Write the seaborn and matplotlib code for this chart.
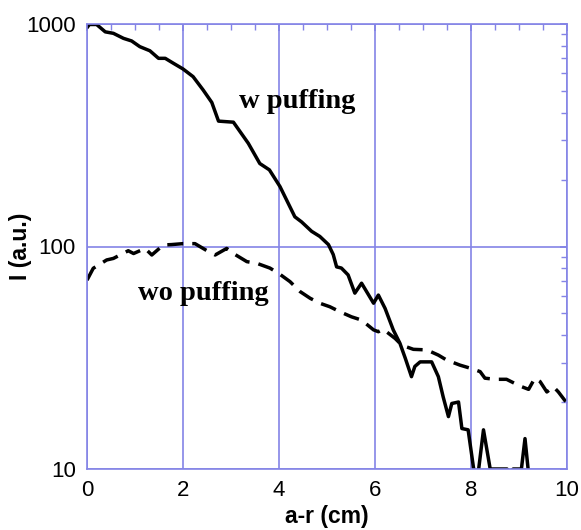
import numpy as np
import pandas as pd
import matplotlib
matplotlib.use("Agg")
import matplotlib.pyplot as plt
import matplotlib.ticker as mticker
import seaborn as sns

# datos
x_w = [0.0, 0.05, 0.2, 0.38, 0.55, 0.76, 0.93, 1.10, 1.31, 1.49, 1.63, 1.80, 2.0, 2.21, 2.42,
       2.6, 2.74, 3.05, 3.36, 3.6, 3.8, 4.02, 4.33, 4.47, 4.68, 4.85, 5.03, 5.13, 5.2, 5.3,
       5.44, 5.58, 5.72, 5.97, 6.07, 6.21, 6.38, 6.52, 6.63, 6.76, 6.83, 6.94, 7.18, 7.32, 7.42,
       7.53, 7.6, 7.74, 7.81, 7.94, 8.05, 8.12, 8.26, 8.4, 8.75, 8.8, 8.88, 9.05, 9.125, 9.2]
y_w = [962, 995, 995, 922, 908, 862, 839, 791, 758, 701, 701, 666, 628, 580, 505,
       444, 366, 362, 291, 236, 221, 186, 136, 129, 117, 111, 102, 92, 81, 80,
       74.5, 61.7, 68.4, 55.6, 60.5, 52.7, 42.2, 36.7, 31.5, 26, 28.9, 30.3, 30.3, 26, 21.1,
       17.2, 19.7, 20, 15.2, 15, 10.2, 8.5, 15, 10, 10, 9.6, 10, 10, 13.7, 9.5]

x_wo = [0, 0.13, 0.41, 0.55, 0.86, 0.97, 1.21, 1.35, 1.59, 1.76, 2.0, 2.25, 2.49, 2.67, 2.91,
        3.05, 3.33, 3.54, 3.81, 3.99, 4.23, 4.44, 4.65, 4.85, 5.06, 5.27, 5.51, 5.72, 5.97,
        6.07, 6.17, 6.42, 6.56, 6.8, 7.08, 7.32, 7.49, 7.77, 7.98, 8.19, 8.29, 8.5, 8.74,
        9.02, 9.2, 9.33, 9.44, 9.58, 9.72, 9.82, 9.98]
y_wo = [70.6, 79.8, 87, 88.4, 95.7, 93, 98, 91.6, 101.6, 102, 103, 103, 96, 91.6, 98,
        93, 85.5, 84, 80, 75.8, 69.5, 62.7, 58.5, 55.6, 53.6, 50.9, 48.3, 46.7, 42.2,
        41.4, 42.5, 38.6, 36, 34.5, 34.3, 32.5, 30.9, 29.3, 28.4, 27.4, 25.6, 25.3, 25.3,
        23.6, 22.8, 25.6, 24.7, 22.2, 23.4, 22.2, 20]

sns.set_theme(style="white")
plt.rcParams['font.family'] = ['Liberation Sans', 'DejaVu Sans']
plt.rcParams['text.color'] = 'black'

azul = '#8484e6'

fig = plt.figure(figsize=(5.81, 5.30), dpi=100)
ax = fig.add_axes([87 / 581, 1 - 469 / 530, 480 / 581, 445 / 530])

df_w = pd.DataFrame({'x': x_w, 'I': y_w})
df_wo = pd.DataFrame({'x': x_wo, 'I': y_wo})
sns.lineplot(data=df_w, x='x', y='I', ax=ax, color='black', linewidth=2.5,
             estimator=None, sort=False, solid_joinstyle='round')
sns.lineplot(data=df_wo, x='x', y='I', ax=ax, color='black', linewidth=2.5,
             estimator=None, sort=False, linestyle=(0, (4.6, 2.6)),
             dash_joinstyle='round')

ax.set_yscale('log')
ax.set_xlim(0, 10)
ax.set_ylim(10, 1000)
ax.set_xticks([0, 2, 4, 6, 8, 10])
ax.set_yticks([10, 100, 1000])
ax.yaxis.set_major_formatter(mticker.FuncFormatter(lambda v, _: f'{v:g}'))
ax.xaxis.set_minor_locator(mticker.MultipleLocator(0.5))
ax.yaxis.set_minor_locator(mticker.LogLocator(base=10, subs=np.arange(2, 10)))
ax.yaxis.set_minor_formatter(mticker.NullFormatter())

ax.grid(True, which='major', color=azul, linewidth=1.2)
for spine in ax.spines.values():
    spine.set_edgecolor(azul)
    spine.set_linewidth(1.2)
ax.tick_params(which='both', direction='in', top=True, right=True, color=azul)
ax.tick_params(which='major', length=5, labelsize=16, pad=8, labelcolor='black')
ax.tick_params(which='minor', length=4)

ax.set_xlabel('a-r (cm)', fontsize=16.5, fontweight='bold', labelpad=3, color='black')
ax.set_ylabel('I (a.u.)', fontsize=16.5, fontweight='bold', color='black')
ax.yaxis.set_label_coords(-0.115, 0.5)

ax.text(3.17, 419, 'w puffing', fontsize=20.5, fontweight='bold', color='black',
        family=['Liberation Serif', 'DejaVu Serif'], va='baseline', ha='left')
ax.text(1.06, 57.5, 'wo puffing', fontsize=20.5, fontweight='bold', color='black',
        family=['Liberation Serif', 'DejaVu Serif'], va='baseline', ha='left')

fig.savefig('out.png', dpi=100)
